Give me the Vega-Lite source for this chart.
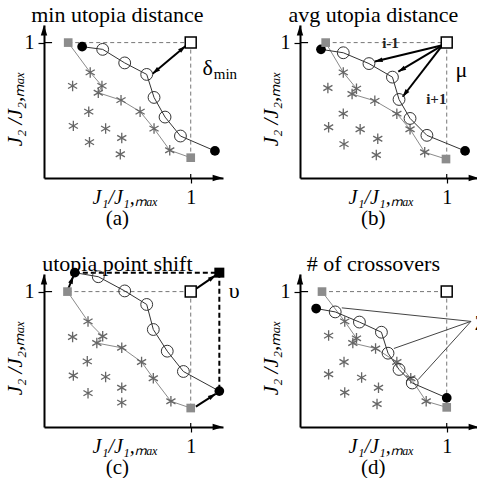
{
  "$schema": "https://vega.github.io/schema/vega-lite/v6.json",
  "background": "white",
  "padding": {"left": 5, "top": 3, "right": 0, "bottom": 0},
  "config": {"view": {"stroke": null}, "font": "Liberation Serif",
             "header": {"labels": false, "title": null, "labelExpr": "''", "labelFontSize": 1, "labelPadding": 0, "labelColor": "white"}},
  "data": {"values": [
    {"panel": "a", "kind": "frame", "title": "min utopia distance", "tag": "(a)"},
    {"panel": "b", "kind": "frame", "title": "avg utopia distance", "tag": "(b)"},
    {"panel": "c", "kind": "frame", "title": "utopia point shift", "tag": "(c)"},
    {"panel": "d", "kind": "frame", "title": "# of crossovers", "tag": "(d)"},

    {"panel": "a", "kind": "dash", "x": 0.165, "y": 1.0, "x2": 1.0, "y2": 1.0},
    {"panel": "a", "kind": "dash", "x": 1.0, "y": 1.0, "x2": 1.0, "y2": 0.15},
    {"panel": "a", "kind": "corner", "order": 0, "x": 0.165, "y": 1.0},
    {"panel": "a", "kind": "pstar", "order": 1, "x": 0.315, "y": 0.78},
    {"panel": "a", "kind": "pstar", "order": 2, "x": 0.395, "y": 0.68},
    {"panel": "a", "kind": "pstar", "order": 3, "x": 0.37, "y": 0.63},
    {"panel": "a", "kind": "pstar", "order": 4, "x": 0.525, "y": 0.575},
    {"panel": "a", "kind": "pstar", "order": 5, "x": 0.655, "y": 0.49},
    {"panel": "a", "kind": "pstar", "order": 6, "x": 0.75, "y": 0.365},
    {"panel": "a", "kind": "pstar", "order": 7, "x": 0.857, "y": 0.205},
    {"panel": "a", "kind": "corner", "order": 8, "x": 1.0, "y": 0.15},
    {"panel": "a", "kind": "end", "order": 0, "x": 0.26, "y": 0.97},
    {"panel": "a", "kind": "mid", "order": 1, "x": 0.40, "y": 0.95},
    {"panel": "a", "kind": "mid", "order": 2, "x": 0.55, "y": 0.85},
    {"panel": "a", "kind": "mid", "order": 3, "x": 0.70, "y": 0.765},
    {"panel": "a", "kind": "mid", "order": 4, "x": 0.75, "y": 0.595},
    {"panel": "a", "kind": "mid", "order": 5, "x": 0.825, "y": 0.45},
    {"panel": "a", "kind": "mid", "order": 6, "x": 0.93, "y": 0.31},
    {"panel": "a", "kind": "end", "order": 7, "x": 1.165, "y": 0.20},
    {"panel": "a", "kind": "star", "x": 0.195, "y": 0.68},
    {"panel": "a", "kind": "star", "x": 0.305, "y": 0.49},
    {"panel": "a", "kind": "star", "x": 0.20, "y": 0.385},
    {"panel": "a", "kind": "star", "x": 0.42, "y": 0.365},
    {"panel": "a", "kind": "star", "x": 0.31, "y": 0.265},
    {"panel": "a", "kind": "star", "x": 0.53, "y": 0.295},
    {"panel": "a", "kind": "star", "x": 0.52, "y": 0.175},
    {"panel": "a", "kind": "utopia", "x": 1.0, "y": 1.0},
    {"panel": "a", "kind": "darrow", "x": 0.74, "y": 0.77, "x2": 0.965, "y2": 0.975},
    {"panel": "a", "kind": "label", "x": 1.08, "y": 0.76, "label": "δ"},
    {"panel": "a", "kind": "sub", "x": 1.157, "y": 0.73, "label": "min"},

    {"panel": "b", "kind": "dash", "x": 0.175, "y": 1.0, "x2": 1.0, "y2": 1.0},
    {"panel": "b", "kind": "dash", "x": 1.0, "y": 1.0, "x2": 1.0, "y2": 0.14},
    {"panel": "b", "kind": "corner", "order": 0, "x": 0.175, "y": 1.0},
    {"panel": "b", "kind": "pstar", "order": 1, "x": 0.295, "y": 0.78},
    {"panel": "b", "kind": "pstar", "order": 2, "x": 0.385, "y": 0.66},
    {"panel": "b", "kind": "pstar", "order": 3, "x": 0.355, "y": 0.62},
    {"panel": "b", "kind": "pstar", "order": 4, "x": 0.51, "y": 0.57},
    {"panel": "b", "kind": "pstar", "order": 5, "x": 0.66, "y": 0.475},
    {"panel": "b", "kind": "pstar", "order": 6, "x": 0.75, "y": 0.36},
    {"panel": "b", "kind": "pstar", "order": 7, "x": 0.85, "y": 0.19},
    {"panel": "b", "kind": "corner", "order": 8, "x": 0.995, "y": 0.14},
    {"panel": "b", "kind": "end", "order": 0, "x": 0.143, "y": 0.95},
    {"panel": "b", "kind": "mid", "order": 1, "x": 0.295, "y": 0.925},
    {"panel": "b", "kind": "mid", "order": 2, "x": 0.47, "y": 0.845},
    {"panel": "b", "kind": "mid", "order": 3, "x": 0.63, "y": 0.745},
    {"panel": "b", "kind": "mid", "order": 4, "x": 0.675, "y": 0.58},
    {"panel": "b", "kind": "mid", "order": 5, "x": 0.75, "y": 0.44},
    {"panel": "b", "kind": "mid", "order": 6, "x": 0.865, "y": 0.315},
    {"panel": "b", "kind": "end", "order": 7, "x": 1.125, "y": 0.20},
    {"panel": "b", "kind": "star", "x": 0.19, "y": 0.665},
    {"panel": "b", "kind": "star", "x": 0.295, "y": 0.475},
    {"panel": "b", "kind": "star", "x": 0.195, "y": 0.375},
    {"panel": "b", "kind": "star", "x": 0.41, "y": 0.36},
    {"panel": "b", "kind": "star", "x": 0.30, "y": 0.25},
    {"panel": "b", "kind": "star", "x": 0.53, "y": 0.29},
    {"panel": "b", "kind": "star", "x": 0.52, "y": 0.17},
    {"panel": "b", "kind": "utopia", "x": 1.0, "y": 1.0},
    {"panel": "b", "kind": "arrow", "x": 0.97, "y": 0.98, "x2": 0.51, "y2": 0.86},
    {"panel": "b", "kind": "arrow", "x": 0.97, "y": 0.98, "x2": 0.67, "y2": 0.785},
    {"panel": "b", "kind": "arrow", "x": 0.97, "y": 0.98, "x2": 0.70, "y2": 0.60},
    {"panel": "b", "kind": "small", "x": 0.56, "y": 0.96, "label": "i-1"},
    {"panel": "b", "kind": "small", "x": 0.86, "y": 0.55, "label": "i+1"},
    {"panel": "b", "kind": "label", "x": 1.06, "y": 0.745, "label": "μ"},

    {"panel": "c", "kind": "dash", "x": 0.16, "y": 1.0, "x2": 1.0, "y2": 1.0},
    {"panel": "c", "kind": "dash", "x": 1.0, "y": 1.0, "x2": 1.0, "y2": 0.14},
    {"panel": "c", "kind": "bdash", "x": 0.21, "y": 1.14, "x2": 1.195, "y2": 1.14},
    {"panel": "c", "kind": "bdash", "x": 1.195, "y": 1.14, "x2": 1.195, "y2": 0.265},
    {"panel": "c", "kind": "corner", "order": 0, "x": 0.16, "y": 1.0},
    {"panel": "c", "kind": "pstar", "order": 1, "x": 0.30, "y": 0.78},
    {"panel": "c", "kind": "pstar", "order": 2, "x": 0.40, "y": 0.67},
    {"panel": "c", "kind": "pstar", "order": 3, "x": 0.36, "y": 0.62},
    {"panel": "c", "kind": "pstar", "order": 4, "x": 0.53, "y": 0.585},
    {"panel": "c", "kind": "pstar", "order": 5, "x": 0.665, "y": 0.48},
    {"panel": "c", "kind": "pstar", "order": 6, "x": 0.745, "y": 0.36},
    {"panel": "c", "kind": "pstar", "order": 7, "x": 0.865, "y": 0.19},
    {"panel": "c", "kind": "corner", "order": 8, "x": 1.0, "y": 0.14},
    {"panel": "c", "kind": "end", "order": 0, "x": 0.21, "y": 1.14},
    {"panel": "c", "kind": "mid", "order": 1, "x": 0.37, "y": 1.11},
    {"panel": "c", "kind": "mid", "order": 2, "x": 0.55, "y": 1.005},
    {"panel": "c", "kind": "mid", "order": 3, "x": 0.70, "y": 0.905},
    {"panel": "c", "kind": "mid", "order": 4, "x": 0.745, "y": 0.72},
    {"panel": "c", "kind": "mid", "order": 5, "x": 0.84, "y": 0.56},
    {"panel": "c", "kind": "mid", "order": 6, "x": 0.95, "y": 0.41},
    {"panel": "c", "kind": "end", "order": 7, "x": 1.195, "y": 0.265},
    {"panel": "c", "kind": "star", "x": 0.195, "y": 0.665},
    {"panel": "c", "kind": "star", "x": 0.295, "y": 0.485},
    {"panel": "c", "kind": "star", "x": 0.20, "y": 0.38},
    {"panel": "c", "kind": "star", "x": 0.42, "y": 0.37},
    {"panel": "c", "kind": "star", "x": 0.30, "y": 0.25},
    {"panel": "c", "kind": "star", "x": 0.53, "y": 0.29},
    {"panel": "c", "kind": "star", "x": 0.53, "y": 0.18},
    {"panel": "c", "kind": "utopia", "x": 1.0, "y": 1.0},
    {"panel": "c", "kind": "newutopia", "x": 1.195, "y": 1.14},
    {"panel": "c", "kind": "arrow", "x": 0.165, "y": 1.02, "x2": 0.2, "y2": 1.115},
    {"panel": "c", "kind": "arrow", "x": 1.035, "y": 1.02, "x2": 1.17, "y2": 1.12},
    {"panel": "c", "kind": "arrow", "x": 1.035, "y": 0.15, "x2": 1.17, "y2": 0.245},
    {"panel": "c", "kind": "label", "x": 1.26, "y": 0.955, "label": "υ"},

    {"panel": "d", "kind": "dash", "x": 0.15, "y": 1.0, "x2": 1.0, "y2": 1.0},
    {"panel": "d", "kind": "dash", "x": 1.0, "y": 1.0, "x2": 1.0, "y2": 0.145},
    {"panel": "d", "kind": "corner", "order": 0, "x": 0.15, "y": 1.0},
    {"panel": "d", "kind": "pstar", "order": 1, "x": 0.305, "y": 0.78},
    {"panel": "d", "kind": "pstar", "order": 2, "x": 0.385, "y": 0.655},
    {"panel": "d", "kind": "pstar", "order": 3, "x": 0.36, "y": 0.62},
    {"panel": "d", "kind": "pstar", "order": 4, "x": 0.515, "y": 0.58},
    {"panel": "d", "kind": "pstar", "order": 5, "x": 0.66, "y": 0.48},
    {"panel": "d", "kind": "pstar", "order": 6, "x": 0.755, "y": 0.36},
    {"panel": "d", "kind": "pstar", "order": 7, "x": 0.86, "y": 0.19},
    {"panel": "d", "kind": "corner", "order": 8, "x": 1.0, "y": 0.145},
    {"panel": "d", "kind": "end", "order": 0, "x": 0.11, "y": 0.875},
    {"panel": "d", "kind": "mid", "order": 1, "x": 0.24, "y": 0.85},
    {"panel": "d", "kind": "mid", "order": 2, "x": 0.405, "y": 0.775},
    {"panel": "d", "kind": "mid", "order": 3, "x": 0.555, "y": 0.70},
    {"panel": "d", "kind": "mid", "order": 4, "x": 0.60, "y": 0.545},
    {"panel": "d", "kind": "mid", "order": 5, "x": 0.675, "y": 0.425},
    {"panel": "d", "kind": "mid", "order": 6, "x": 0.765, "y": 0.325},
    {"panel": "d", "kind": "end", "order": 7, "x": 1.0, "y": 0.215},
    {"panel": "d", "kind": "star", "x": 0.195, "y": 0.675},
    {"panel": "d", "kind": "star", "x": 0.30, "y": 0.48},
    {"panel": "d", "kind": "star", "x": 0.195, "y": 0.39},
    {"panel": "d", "kind": "star", "x": 0.42, "y": 0.365},
    {"panel": "d", "kind": "star", "x": 0.305, "y": 0.255},
    {"panel": "d", "kind": "star", "x": 0.535, "y": 0.29},
    {"panel": "d", "kind": "star", "x": 0.525, "y": 0.17},
    {"panel": "d", "kind": "utopia", "x": 1.0, "y": 1.0},
    {"panel": "d", "kind": "ptr", "x": 1.165, "y": 0.78, "x2": 0.285, "y2": 0.88},
    {"panel": "d", "kind": "ptr", "x": 1.165, "y": 0.78, "x2": 0.64, "y2": 0.58},
    {"panel": "d", "kind": "ptr", "x": 1.165, "y": 0.78, "x2": 0.805, "y2": 0.35},
    {"panel": "d", "kind": "label", "x": 1.19, "y": 0.72, "label": "Z"}
  ]},
  "facet": {"field": "panel", "type": "nominal",
            "header": {"labels": false, "title": null, "labelExpr": "''", "labelFontSize": 1, "labelPadding": 0, "labelColor": "white"}},
  "columns": 2,
  "spacing": {"row": 96, "column": 77},
  "bounds": "flush",
  "resolve": {"axis": {"x": "independent", "y": "independent"}},
  "spec": {
    "width": 179,
    "height": 153,
    "layer": [
      {
        "transform": [{"filter": "datum.kind === 'dash'"}],
        "mark": {"type": "rule", "color": "#777", "strokeWidth": 1, "strokeDash": [4, 3]},
        "encoding": {
          "x": {"field": "x", "type": "quantitative",
                "scale": {"domain": [0, 1.22], "nice": false, "zero": false},
                "axis": {"values": [1], "format": "d", "title": null, "grid": false,
                         "domainColor": "black", "domainWidth": 2, "tickColor": "black", "tickWidth": 1.2, "tickSize": 5,
                         "labelFont": "Liberation Serif", "labelFontSize": 20, "labelColor": "black", "labelPadding": 4}},
          "y": {"field": "y", "type": "quantitative",
                "scale": {"domain": [0, 1.13], "nice": false, "zero": false},
                "axis": {"values": [1], "format": "d", "title": null, "grid": false,
                         "domainColor": "black", "domainWidth": 2, "tickColor": "black", "tickWidth": 1.2, "tickSize": 6,
                         "labelFont": "Liberation Serif", "labelFontSize": 20, "labelColor": "black", "labelPadding": 4}},
          "x2": {"field": "x2"},
          "y2": {"field": "y2"}
        }
      },
      {
        "transform": [{"filter": "datum.kind === 'bdash'"}],
        "mark": {"type": "rule", "color": "black", "strokeWidth": 2, "strokeDash": [5, 3]},
        "encoding": {
          "x": {"field": "x", "type": "quantitative"},
          "y": {"field": "y", "type": "quantitative"},
          "x2": {"field": "x2"},
          "y2": {"field": "y2"}
        }
      },
      {
        "transform": [{"filter": "datum.kind === 'corner' || datum.kind === 'pstar'"}],
        "mark": {"type": "line", "color": "#8a8a8a", "strokeWidth": 1},
        "encoding": {
          "x": {"field": "x", "type": "quantitative"},
          "y": {"field": "y", "type": "quantitative"},
          "order": {"field": "order", "type": "quantitative"}
        }
      },
      {
        "transform": [{"filter": "datum.kind === 'end' || datum.kind === 'mid'"}],
        "mark": {"type": "line", "color": "#333", "strokeWidth": 1},
        "encoding": {
          "x": {"field": "x", "type": "quantitative"},
          "y": {"field": "y", "type": "quantitative"},
          "order": {"field": "order", "type": "quantitative"}
        }
      },
      {
        "transform": [{"filter": "datum.kind === 'ptr'"}],
        "mark": {"type": "rule", "color": "#444", "strokeWidth": 1},
        "encoding": {
          "x": {"field": "x", "type": "quantitative"},
          "y": {"field": "y", "type": "quantitative"},
          "x2": {"field": "x2"},
          "y2": {"field": "y2"}
        }
      },
      {
        "transform": [{"filter": "datum.kind === 'arrow' || datum.kind === 'darrow'"}],
        "mark": {"type": "rule", "color": "black", "strokeWidth": 2},
        "encoding": {
          "x": {"field": "x", "type": "quantitative"},
          "y": {"field": "y", "type": "quantitative"},
          "x2": {"field": "x2"},
          "y2": {"field": "y2"}
        }
      },
      {
        "transform": [
          {"filter": "datum.kind === 'arrow' || datum.kind === 'darrow'"},
          {"calculate": "atan2((datum.x2 - datum.x) * 146.7, (datum.y2 - datum.y) * 135.4) * 180 / PI", "as": "ang"}
        ],
        "mark": {"type": "point", "shape": "M0,0L0.8,2.6L-0.8,2.6Z", "filled": true, "color": "black", "opacity": 1, "size": 36},
        "encoding": {
          "x": {"field": "x2", "type": "quantitative"},
          "y": {"field": "y2", "type": "quantitative"},
          "angle": {"field": "ang", "type": "quantitative", "scale": null}
        }
      },
      {
        "transform": [
          {"filter": "datum.kind === 'darrow'"},
          {"calculate": "atan2((datum.x - datum.x2) * 146.7, (datum.y - datum.y2) * 135.4) * 180 / PI", "as": "ang"}
        ],
        "mark": {"type": "point", "shape": "M0,0L0.8,2.6L-0.8,2.6Z", "filled": true, "color": "black", "opacity": 1, "size": 36},
        "encoding": {
          "x": {"field": "x", "type": "quantitative"},
          "y": {"field": "y", "type": "quantitative"},
          "angle": {"field": "ang", "type": "quantitative", "scale": null}
        }
      },
      {
        "transform": [{"filter": "datum.kind === 'star' || datum.kind === 'pstar'"}],
        "mark": {"type": "point", "shape": "M0,-1L0,1M-0.87,-0.5L0.87,0.5M-0.87,0.5L0.87,-0.5", "filled": false, "color": "#666", "strokeWidth": 1.3, "opacity": 1, "size": 110},
        "encoding": {
          "x": {"field": "x", "type": "quantitative"},
          "y": {"field": "y", "type": "quantitative"}
        }
      },
      {
        "transform": [{"filter": "datum.kind === 'mid'"}],
        "mark": {"type": "point", "shape": "circle", "filled": false, "color": "#333", "strokeWidth": 1, "opacity": 1, "size": 140},
        "encoding": {
          "x": {"field": "x", "type": "quantitative"},
          "y": {"field": "y", "type": "quantitative"}
        }
      },
      {
        "transform": [{"filter": "datum.kind === 'end'"}],
        "mark": {"type": "point", "shape": "circle", "filled": true, "color": "black", "opacity": 1, "size": 95},
        "encoding": {
          "x": {"field": "x", "type": "quantitative"},
          "y": {"field": "y", "type": "quantitative"}
        }
      },
      {
        "transform": [{"filter": "datum.kind === 'corner'"}],
        "mark": {"type": "point", "shape": "square", "filled": true, "color": "#8c8c8c", "opacity": 1, "size": 75},
        "encoding": {
          "x": {"field": "x", "type": "quantitative"},
          "y": {"field": "y", "type": "quantitative"}
        }
      },
      {
        "transform": [{"filter": "datum.kind === 'utopia'"}],
        "mark": {"type": "point", "shape": "square", "filled": true, "fill": "white", "stroke": "black", "strokeWidth": 1.5, "opacity": 1, "size": 120},
        "encoding": {
          "x": {"field": "x", "type": "quantitative"},
          "y": {"field": "y", "type": "quantitative"}
        }
      },
      {
        "transform": [{"filter": "datum.kind === 'newutopia'"}],
        "mark": {"type": "point", "shape": "square", "filled": true, "color": "black", "opacity": 1, "size": 100},
        "encoding": {
          "x": {"field": "x", "type": "quantitative"},
          "y": {"field": "y", "type": "quantitative"}
        }
      },
      {
        "transform": [{"filter": "datum.kind === 'label'"}],
        "mark": {"type": "text", "font": "Liberation Serif", "fontSize": 22, "align": "left", "baseline": "alphabetic", "color": "black"},
        "encoding": {
          "x": {"field": "x", "type": "quantitative"},
          "y": {"field": "y", "type": "quantitative"},
          "text": {"field": "label"}
        }
      },
      {
        "transform": [{"filter": "datum.kind === 'sub'"}],
        "mark": {"type": "text", "font": "Liberation Serif", "fontSize": 15, "align": "left", "baseline": "alphabetic", "color": "black"},
        "encoding": {
          "x": {"field": "x", "type": "quantitative"},
          "y": {"field": "y", "type": "quantitative"},
          "text": {"field": "label"}
        }
      },
      {
        "transform": [{"filter": "datum.kind === 'small'"}],
        "mark": {"type": "text", "font": "Liberation Serif", "fontSize": 15, "fontWeight": "bold", "align": "left", "baseline": "alphabetic", "color": "#222"},
        "encoding": {
          "x": {"field": "x", "type": "quantitative"},
          "y": {"field": "y", "type": "quantitative"},
          "text": {"field": "label"}
        }
      },
      {
        "transform": [{"filter": "datum.kind === 'frame'"}],
        "mark": {"type": "text", "font": "Liberation Serif", "fontSize": 22, "align": "center", "baseline": "alphabetic", "color": "black"},
        "encoding": {
          "x": {"datum": 0.5, "type": "quantitative"},
          "y": {"datum": 1.152, "type": "quantitative"},
          "text": {"field": "title"}
        }
      },
      {
        "transform": [{"filter": "datum.kind === 'frame'"}],
        "mark": {"type": "text", "font": "Liberation Serif", "fontSize": 21, "align": "center", "baseline": "alphabetic", "color": "black"},
        "encoding": {
          "x": {"datum": 0.5, "type": "quantitative"},
          "y": {"datum": -0.345, "type": "quantitative"},
          "text": {"field": "tag"}
        }
      },
      {
        "transform": [{"filter": "datum.kind === 'frame'"}],
        "mark": {"type": "text", "font": "Liberation Serif", "fontStyle": "italic", "fontSize": 20, "align": "center", "baseline": "alphabetic", "color": "black", "text": "J₁/J₁,ₘₐₓ"},
        "encoding": {
          "x": {"datum": 0.555, "type": "quantitative"},
          "y": {"datum": -0.19, "type": "quantitative"}
        }
      },
      {
        "transform": [{"filter": "datum.kind === 'frame'"}],
        "mark": {"type": "text", "font": "Liberation Serif", "fontStyle": "italic", "fontSize": 21, "align": "center", "baseline": "middle", "angle": 270, "color": "black", "text": "J₂ /J₂,ₘₐₓ"},
        "encoding": {
          "x": {"datum": -0.19, "type": "quantitative"},
          "y": {"datum": 0.51, "type": "quantitative"}
        }
      },
      {
        "transform": [{"filter": "datum.kind === 'frame'"}],
        "mark": {"type": "rule", "color": "black", "strokeWidth": 1.2},
        "encoding": {
          "x": {"datum": 0, "type": "quantitative"},
          "x2": {"datum": 0.055},
          "y": {"datum": 1, "type": "quantitative"}
        }
      },
      {
        "transform": [{"filter": "datum.kind === 'frame'"}],
        "mark": {"type": "rule", "color": "black", "strokeWidth": 1.2},
        "encoding": {
          "x": {"datum": 1, "type": "quantitative"},
          "y": {"datum": 0, "type": "quantitative"},
          "y2": {"datum": 0.03}
        }
      },
      {
        "transform": [{"filter": "datum.kind === 'frame'"}],
        "mark": {"type": "point", "shape": "M0,0L0.8,2.6L-0.8,2.6Z", "filled": true, "color": "black", "opacity": 1, "size": 64, "angle": 90},
        "encoding": {
          "x": {"datum": 1.22, "type": "quantitative"},
          "y": {"datum": 0, "type": "quantitative"}
        }
      },
      {
        "transform": [{"filter": "datum.kind === 'frame'"}],
        "mark": {"type": "point", "shape": "M0,0L0.8,2.6L-0.8,2.6Z", "filled": true, "color": "black", "opacity": 1, "size": 64, "angle": 0},
        "encoding": {
          "x": {"datum": 0, "type": "quantitative"},
          "y": {"datum": 1.13, "type": "quantitative"}
        }
      }
    ]
  }
}
